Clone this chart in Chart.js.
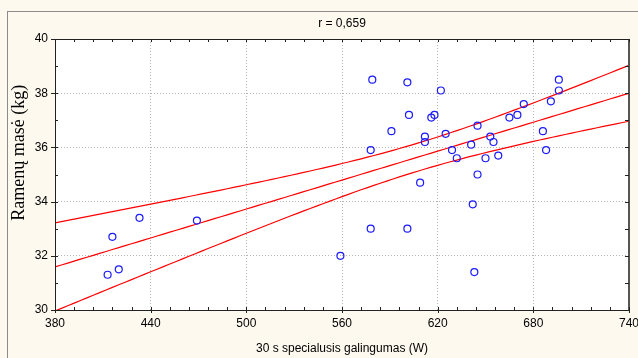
<!DOCTYPE html>
<html>
<head>
<meta charset="utf-8">
<script src="https://cdn.jsdelivr.net/npm/chart.js@4/dist/chart.umd.min.js"></script>
<style>
  html, body { margin: 0; padding: 0; background: #fdf9ef; }
  canvas { display: block; }
</style>
</head>
<body>
<canvas id="grafico" width="638" height="358"></canvas>
<script>
// 30 s specialusis galingumas (W) / ramenų masė (kg)
const power = [579, 601, 622, 602, 616, 618, 591, 578, 612, 612, 625, 629, 632, 609,
               641, 645, 645, 642, 643, 578, 601, 559, 650, 653, 655, 658, 665, 670,
               674, 686, 688, 691, 696, 696, 416, 433, 469, 413, 420];
const mass  = [38.5, 38.4, 38.1, 37.2, 37.1, 37.2, 36.6, 35.9, 36.4, 36.2, 36.5, 35.9, 35.6, 34.7,
               36.1, 36.8, 35.0, 33.9, 31.4, 33.0, 33.0, 32.0, 35.6, 36.4, 36.2, 35.7, 37.1, 37.2,
               37.6, 36.6, 35.9, 37.7, 38.5, 38.1, 32.7, 33.4, 33.3, 31.3, 31.5];

const xRange = [380, 740];
const yRange = [30, 40];
const xStep = 60, yStep = 2;
const titulo = 'r = 0,659';
const xTitulo = '30 s specialusis galingumas (W)';
const yTitulo = 'Ramenų masė (kg)';
const tCrit = 2.026; // t(0.975; n-2)

// tiesinė regresija ir 95% pasikliautinieji intervalai
const n = power.length;
const mx = power.reduce((s, v) => s + v, 0) / n;
const my = mass.reduce((s, v) => s + v, 0) / n;
let sxx = 0, sxy = 0;
for (let i = 0; i < n; i++) {
  sxx += (power[i] - mx) ** 2;
  sxy += (power[i] - mx) * (mass[i] - my);
}
const b = sxy / sxx, a0 = my - b * mx;
let sse = 0;
for (let i = 0; i < n; i++) sse += (mass[i] - a0 - b * power[i]) ** 2;
const se = Math.sqrt(sse / (n - 2));

const fit = [], upper = [], lower = [];
for (let x = xRange[0]; x <= xRange[1]; x += 4) {
  const y = a0 + b * x;
  const h = tCrit * se * Math.sqrt(1 / n + (x - mx) ** 2 / sxx);
  fit.push({x, y});
  upper.push({x, y: y + h});
  lower.push({x, y: y - h});
}

const linija = (data) => ({
  type: 'line', data, borderColor: '#ff0000', borderWidth: 1.2,
  pointRadius: 0, fill: false, tension: 0
});

const fonas = {
  id: 'fonas',
  beforeDraw(chart) {
    const c = chart.ctx, ar = chart.chartArea;
    c.save();
    c.fillStyle = '#fdf9ef';
    c.fillRect(0, 0, chart.width, chart.height);
    c.strokeStyle = '#8c8c8c';
    c.lineWidth = 1;
    c.strokeRect(7.5, 11.5, chart.width + 20, chart.height + 20);
    c.fillStyle = '#ffffff';
    c.fillRect(ar.left, ar.top, ar.right - ar.left, ar.bottom - ar.top);
    c.restore();
  },
  afterDraw(chart) {
    const c = chart.ctx, ar = chart.chartArea;
    const sx = chart.scales.x, sy = chart.scales.y;
    c.save();
    // rėmelis
    c.strokeStyle = '#222';
    c.lineWidth = 1;
    c.beginPath();
    c.moveTo(ar.left + 0.5, ar.top + 0.5);
    c.lineTo(ar.right, ar.top + 0.5);
    c.moveTo(ar.left + 0.5, ar.top);
    c.lineTo(ar.left + 0.5, ar.bottom + 0.5);
    c.lineTo(ar.right, ar.bottom + 0.5);
    c.stroke();
    c.strokeStyle = '#555';
    c.lineWidth = 2;
    c.beginPath();
    c.moveTo(ar.right, ar.top);
    c.lineTo(ar.right, ar.bottom + 1);
    c.stroke();

    // smulkios žymės
    c.strokeStyle = '#222';
    c.lineWidth = 1;
    c.beginPath();
    for (let v = xRange[0]; v <= xRange[1]; v += xStep / 5) {
      const px = Math.round(sx.getPixelForValue(v)) + 0.5;
      const major = (v - xRange[0]) % xStep === 0;
      c.moveTo(px, ar.bottom - 3); c.lineTo(px, ar.bottom + (major ? 3 : 0));
      c.moveTo(px, ar.top); c.lineTo(px, ar.top + 3);
    }
    for (let v = yRange[0]; v <= yRange[1]; v += yStep / 2) {
      const py = Math.round(sy.getPixelForValue(v)) + 0.5;
      const major = (v - yRange[0]) % yStep === 0;
      c.moveTo(ar.left - (major ? 4 : 0), py); c.lineTo(ar.left + 3, py);
      c.moveTo(ar.right - 4, py); c.lineTo(ar.right, py);
    }
    c.stroke();

    // antraštė ir y ašies pavadinimas
    c.fillStyle = '#000';
    c.font = '12px "Liberation Sans", Arial, sans-serif';
    c.textAlign = 'center';
    c.textBaseline = 'middle';
    c.fillText(titulo, (ar.left + ar.right) / 2, 24);
    c.translate(19, ar.top + (ar.bottom - ar.top) * 0.42);
    c.rotate(-Math.PI / 2);
    c.font = '18px "Liberation Serif", "Times New Roman", serif';
    c.fillText(yTitulo, 0, 0);
    c.restore();
  }
};

new Chart(document.getElementById('grafico'), {
  type: 'scatter',
  data: {
    datasets: [
      {
        data: power.map((x, i) => ({x, y: mass[i]})),
        pointStyle: 'circle', pointRadius: 3.5, borderWidth: 1.2,
        borderColor: '#1a1aff', backgroundColor: 'rgba(0,0,0,0)'
      },
      linija(upper), linija(fit), linija(lower)
    ]
  },
  options: {
    responsive: false,
    animation: false,
    layout: { padding: { top: 39, right: 9, left: 0, bottom: 0 } },
    plugins: { legend: { display: false }, tooltip: { enabled: false } },
    scales: {
      x: {
        type: 'linear', min: xRange[0], max: xRange[1],
        afterFit(scale) { scale.height = 48; scale.paddingLeft = 0; scale.paddingRight = 0; },
        ticks: { stepSize: xStep, padding: 6, color: '#000', maxRotation: 0,
                 font: { family: '"Liberation Sans", Arial, sans-serif', size: 12 } },
        grid: { color: '#b4b4b4', lineWidth: 1, drawTicks: false },
        border: { display: false, dash: [1, 2] },
        title: { display: true, text: xTitulo, color: '#000', padding: { top: 0, bottom: 2 },
                 font: { family: '"Liberation Sans", Arial, sans-serif', size: 12 } }
      },
      y: {
        type: 'linear', min: yRange[0], max: yRange[1],
        afterFit(scale) { scale.width = 55; scale.paddingTop = 0; scale.paddingBottom = 0; },
        ticks: { stepSize: yStep, padding: 7, color: '#000',
                 font: { family: '"Liberation Sans", Arial, sans-serif', size: 12 } },
        grid: { color: '#b4b4b4', lineWidth: 1, drawTicks: false },
        border: { display: false, dash: [1, 2] }
      }
    }
  },
  plugins: [fonas]
});
</script>
</body>
</html>
